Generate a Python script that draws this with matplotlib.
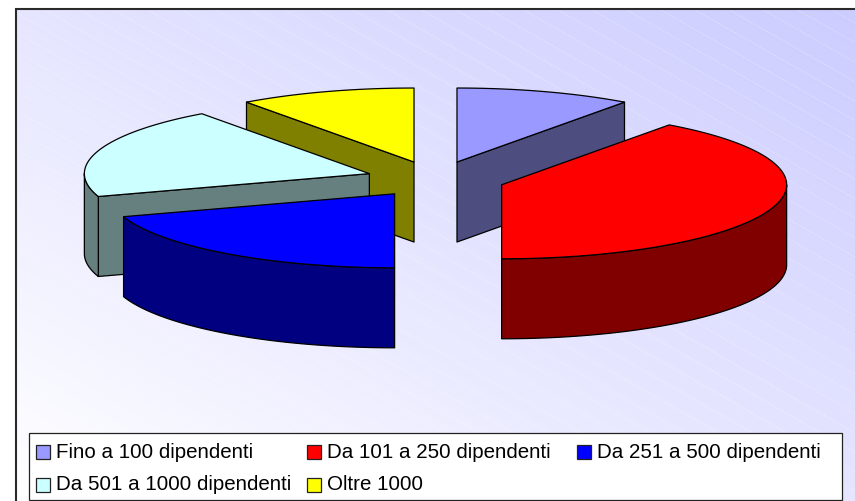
import numpy as np
import matplotlib
matplotlib.use("Agg")
import matplotlib.pyplot as plt
from matplotlib.patches import Polygon, Rectangle

plt.rcParams['font.family'] = ['Liberation Sans', 'DejaVu Sans']

# Data (percent)
labels = ["Fino a 100 dipendenti", "Da 101 a 250 dipendenti", "Da 251 a 500 dipendenti",
          "Da 501 a 1000 dipendenti", "Oltre 1000"]
values = [10, 40, 20, 20, 10]
top_colors = ["#9999ff", "#ff0000", "#0000ff", "#ccffff", "#ffff00"]
side_colors = ["#4d4d80", "#800000", "#000080", "#668080", "#808000"]

# Pie geometry in pixels
cx, cy = 435.5, 179.2
rx, ry = 285, 74
depth = 80
explode = 0.244

# Legend layout in pixels (swatch left, row centre)
legend_x = [36, 306.8, 576.7, 36, 306.8]
legend_y = [452, 452, 452, 484.5, 484.5]

fig = plt.figure(figsize=(8.55, 5.01), dpi=100)
ax = fig.add_axes([0, 0, 1, 1])
ax.set_xlim(0, 855)
ax.set_ylim(501, 0)
ax.axis("off")

# Plot area background: diagonal gradient with faint stripes
gx, gy = np.meshgrid(np.linspace(0, 1, 200), np.linspace(0, 1, 200))
t = 0.5 * (gx + (1 - gy))
grad = np.ones((200, 200, 3))
grad[..., 0] = 1 - t * 0.2
grad[..., 1] = 1 - t * 0.2
ax.imshow(grad, extent=[16, 855, 501, 9], aspect="auto", zorder=0, interpolation="bilinear")
ax.set_xlim(0, 855)
ax.set_ylim(501, 0)
clip = Rectangle((16, 9), 839, 492, transform=ax.transData)
xs = np.array([0, 855])
for k in range(-25, 30):
    ln, = ax.plot(xs, 0.57 * xs + k * 19.5 + 3.8, color="white", lw=0.7, alpha=0.3, ls=(0, (2, 1)), zorder=0.5)
    ln.set_clip_path(clip)
ax.plot([15.5, 15.5, 855], [501, 8.5, 8.5], color="#2a2a2a", lw=1.5, zorder=1, solid_joinstyle="miter")


def ring(px, py, a0, a1):
    th = np.radians(np.linspace(a0, a1, max(int(abs(a1 - a0)) * 2, 2)))
    return px + rx * np.sin(th), py - ry * np.cos(th)


def face(x, y, color):
    ax.add_patch(Polygon(np.column_stack([x, y]), closed=True, fc=color, ec="black", lw=0.9,
                         joinstyle="round", zorder=2))


edges = np.cumsum([0] + values) / sum(values) * 360
slices = []
for i in range(len(values)):
    mid = np.radians((edges[i] + edges[i + 1]) / 2)
    px = cx + explode * rx * np.sin(mid)
    py = cy - explode * ry * np.cos(mid)
    slices.append((py, i, px, edges[i], edges[i + 1]))

# back slices first, front slices paint over them
for py, i, px, a0, a1 in sorted(slices, key=lambda s: s[0]):
    # cut faces that look towards the viewer
    for ang, show in ((a0, np.sin(np.radians(a0)) < -1e-6), (a1, np.sin(np.radians(a1)) > 1e-6)):
        if show:
            ex, ey = ring(px, py, ang, ang)
            ex, ey = ex[0], ey[0]
            face([px, ex, ex, px], [py, ey, ey + depth, py + depth], side_colors[i])
    # outer rim
    r0, r1 = max(a0, 90), min(a1, 270)
    if r1 > r0:
        ex, ey = ring(px, py, r0, r1)
        face(np.r_[ex, ex[::-1]], np.r_[ey, ey[::-1] + depth], side_colors[i])
    # top
    ex, ey = ring(px, py, a0, a1)
    face(np.r_[px, ex], np.r_[py, ey], top_colors[i])

# Legend
ax.add_patch(Rectangle((28.7, 433.3), 813.6, 66.2, fc="white", ec="#222222", lw=0.9, zorder=3))
for name, col, lx, ly in zip(labels, top_colors, legend_x, legend_y):
    ax.add_patch(Rectangle((lx, ly - 7), 14, 14, fc=col, ec="#222222", lw=0.9, zorder=4))
    ax.text(lx + 20.2, ly, name, fontsize=14.8, color="black", va="center", ha="left", zorder=4)

fig.savefig("out.png", dpi=100)
